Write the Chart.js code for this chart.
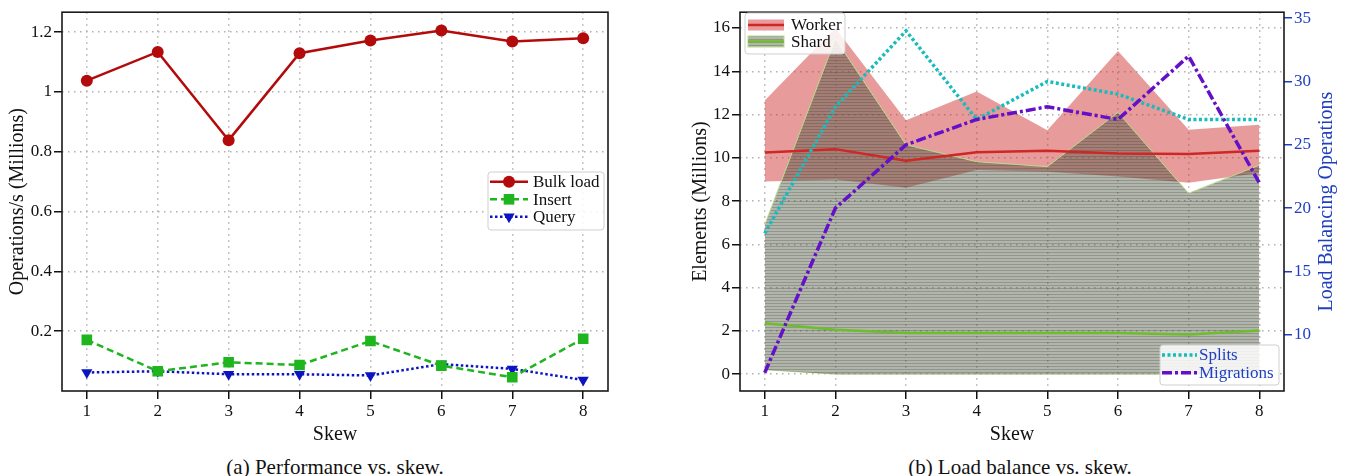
<!DOCTYPE html>
<html>
<head>
<meta charset="utf-8">
<script src="https://cdn.jsdelivr.net/npm/chart.js@4.4.1/dist/chart.umd.min.js"></script>
<style>
  html, body { margin: 0; padding: 0; background: #fff; width: 1347px; height: 476px; overflow: hidden; }
  canvas { position: absolute; top: 0; }
  #perf { left: 0; }
  #bal { left: 660px; }
  .cap { position: absolute; top: 455px; font-family: 'Liberation Serif', 'Times New Roman', Times, serif;
         font-size: 21px; line-height: 24px; white-space: nowrap; transform: translateX(-50%); color: #111; }
</style>
</head>
<body>
<canvas id="perf" width="640" height="447"></canvas>
<canvas id="bal" width="687" height="447"></canvas>
<div class="cap" style="left:335px">(a) Performance vs. skew.</div>
<div class="cap" style="left:1020px">(b) Load balance vs. skew.</div>
<script>
// ---- data ----
const skew = [1, 2, 3, 4, 5, 6, 7, 8];

// (a) throughput, millions of operations per second
const bulkLoad = [1.038, 1.134, 0.839, 1.130, 1.172, 1.206, 1.169, 1.180];
const insert   = [0.171, 0.066, 0.096, 0.087, 0.167, 0.085, 0.046, 0.175];
const query    = [0.062, 0.066, 0.056, 0.056, 0.052, 0.090, 0.074, 0.037];
const perfTicks = [0.2, 0.4, 0.6, 0.8, 1.0, 1.2];

// (b) elements per worker / shard, millions (mean with min-max band)
const workerMean = [10.24, 10.40, 9.86, 10.26, 10.33, 10.20, 10.18, 10.32];
const workerMax  = [12.65, 16.0, 11.73, 13.06, 11.27, 14.94, 11.30, 11.53];
const workerMin  = [8.90, 9.00, 8.62, 9.43, 9.36, 9.13, 8.85, 9.30];
const shardMean  = [2.35, 2.05, 1.90, 1.90, 1.90, 1.90, 1.83, 2.02];
const shardMax   = [6.9, 15.5, 10.6, 9.82, 9.59, 12.1, 8.36, 9.66];
const shardMin   = [0.2, 0, 0, 0, 0, 0, 0, 0];
// (b) load balancing operations
const splits     = [18, 28, 34, 27, 30, 29, 27, 27];
const migrations = [7, 20, 25, 27, 28, 27, 32, 22];
const elementTicks = [0, 2, 4, 6, 8, 10, 12, 14, 16];
const opsTicks     = [10, 15, 20, 25, 30, 35];

// ---- styling helpers ----
const serif = "'Liberation Serif', 'Times New Roman', Times, serif";
const opsBlue = '#1f3fbf';
const pts = arr => skew.map((s, i) => ({ x: s, y: arr[i] }));
const fixTicks = list => scale => { scale.ticks = list.map(v => ({ value: v })); };

function gridOpts(extra) {
  return Object.assign({
    color: '#b0b0b0', lineWidth: 1.5,
    tickColor: '#111', tickWidth: 1.5, tickLength: 8, tickBorderDash: []
  }, extra || {});
}
const dotted = { display: false, dash: [1.5, 4.5] };
const tickFont = { family: serif, size: 17 };
const titleFont = { family: serif, size: 20 };

function roundRect(ctx, x, y, w, h, r) {
  ctx.beginPath();
  ctx.moveTo(x + r, y);
  ctx.lineTo(x + w - r, y); ctx.quadraticCurveTo(x + w, y, x + w, y + r);
  ctx.lineTo(x + w, y + h - r); ctx.quadraticCurveTo(x + w, y + h, x + w - r, y + h);
  ctx.lineTo(x + r, y + h); ctx.quadraticCurveTo(x, y + h, x, y + h - r);
  ctx.lineTo(x, y + r); ctx.quadraticCurveTo(x, y, x + r, y);
  ctx.closePath();
}

function drawMarker(ctx, style, r, x, y, color) {
  ctx.save();
  ctx.fillStyle = color;
  ctx.beginPath();
  if (style === 'circle') {
    ctx.arc(x, y, r, 0, Math.PI * 2);
  } else if (style === 'rect') {
    const s = r * Math.SQRT1_2;
    ctx.rect(x - s, y - s, 2 * s, 2 * s);
  } else if (style === 'triangle') {
    // pointing down
    ctx.moveTo(x, y + r);
    ctx.lineTo(x + r * Math.sin(Math.PI * 2 / 3), y - r * 0.5);
    ctx.lineTo(x - r * Math.sin(Math.PI * 2 / 3), y - r * 0.5);
    ctx.closePath();
  }
  ctx.fill();
  ctx.restore();
}

// frame around the plot, legend boxes and an upward-reading right-axis title
const decorPlugin = {
  id: 'decor',
  afterDraw(chart, args, opts) {
    const ctx = chart.ctx;
    const a = chart.chartArea;
    ctx.save();
    ctx.lineWidth = 1.6;
    ctx.strokeStyle = '#1a1a1a';
    ctx.strokeRect(a.left, a.top, a.right - a.left, a.bottom - a.top);
    ctx.restore();

    (opts.legends || []).forEach(lg => {
      ctx.save();
      roundRect(ctx, lg.x, lg.y, lg.w, lg.h, 3);
      ctx.fillStyle = 'rgba(255,255,255,0.85)';
      ctx.fill();
      ctx.lineWidth = 1;
      ctx.strokeStyle = '#cfcfcf';
      ctx.stroke();
      ctx.font = '17px ' + serif;
      ctx.textBaseline = 'middle';
      ctx.textAlign = 'left';
      lg.rows.forEach(row => {
        const ds = chart.data.datasets[row.ds];
        const mid = (lg.x0 + lg.x1) / 2;
        if (row.band !== undefined) {
          const band = chart.data.datasets[row.band];
          ctx.fillStyle = '#fff';
          ctx.fillRect(lg.x0, row.y - 5.5, lg.x1 - lg.x0, 11);
          ctx.fillStyle = band.backgroundColor;
          ctx.fillRect(lg.x0, row.y - 5.5, lg.x1 - lg.x0, 11);
          if (band.borderWidth) {
            ctx.lineWidth = 1;
            ctx.strokeStyle = band.borderColor;
            ctx.strokeRect(lg.x0, row.y - 5.5, lg.x1 - lg.x0, 11);
          }
        }
        ctx.lineWidth = ds.borderWidth;
        ctx.strokeStyle = ds.borderColor;
        ctx.setLineDash(ds.borderDash || []);
        ctx.beginPath();
        ctx.moveTo(lg.x0, row.y);
        ctx.lineTo(lg.x1, row.y);
        ctx.stroke();
        ctx.setLineDash([]);
        if (ds.pointRadius) drawMarker(ctx, ds.pointStyle, ds.pointRadius, mid, row.y, ds.pointBackgroundColor);
        ctx.fillStyle = lg.textColor;
        ctx.fillText(ds.label, lg.tx, row.y + 1);
      });
      ctx.restore();
    });

    if (opts.sideTitle) {
      const t = opts.sideTitle;
      const sc = chart.scales[t.scale];
      ctx.save();
      ctx.translate(sc.right - t.inset, (a.top + a.bottom) / 2);
      ctx.rotate(-Math.PI / 2);
      ctx.font = '20px ' + serif;
      ctx.fillStyle = t.color;
      ctx.textAlign = 'center';
      ctx.textBaseline = 'middle';
      ctx.fillText(t.text, 0, 0);
      ctx.restore();
    }
  }
};

// ---- (a) performance vs. skew ----
new Chart(document.getElementById('perf'), {
  type: 'line',
  data: {
    datasets: [
      { label: 'Bulk load', data: pts(bulkLoad), borderColor: '#b30b0b', borderWidth: 2.5,
        pointStyle: 'circle', pointRadius: 6, pointBackgroundColor: '#b30b0b', pointBorderWidth: 0 },
      { label: 'Insert', data: pts(insert), borderColor: '#1fb51f', borderWidth: 2.5, borderDash: [7, 4],
        pointStyle: 'rect', pointRadius: 7.5, pointBackgroundColor: '#1fb51f', pointBorderWidth: 0 },
      { label: 'Query', data: pts(query), borderColor: '#0b14c0', borderWidth: 2.5, borderDash: [2.5, 2.5],
        pointStyle: 'triangle', pointRotation: 180, pointRadius: 6.5, pointBackgroundColor: '#0b14c0', pointBorderWidth: 0 }
    ]
  },
  options: {
    responsive: false, animation: false, events: [],
    layout: { padding: { top: 9, right: 32, left: 0, bottom: 0 } },
    plugins: {
      legend: { display: false }, tooltip: { enabled: false },
      decor: {
        legends: [{ x: 488, y: 172, w: 116, h: 58, x0: 490, x1: 528, tx: 533, textColor: '#111',
                    rows: [{ ds: 0, y: 181.7 }, { ds: 1, y: 199.3 }, { ds: 2, y: 216.7 }] }]
      }
    },
    scales: {
      x: {
        type: 'linear', min: 0.65, max: 8.35,
        afterBuildTicks: fixTicks(skew),
        afterFit: s => { s.height = 56; },
        ticks: { font: tickFont, color: '#111', padding: 2, autoSkip: false, maxRotation: 0 },
        grid: gridOpts(), border: dotted,
        title: { display: true, text: 'Skew', font: titleFont, color: '#111', padding: { top: 0, bottom: 0 } }
      },
      y: {
        type: 'linear', min: 0, max: 1.267,
        afterBuildTicks: fixTicks(perfTicks),
        afterFit: s => { s.width = 62; },
        ticks: { font: tickFont, color: '#111', padding: 2, autoSkip: false,
                 callback: v => String(+v.toFixed(1)) },
        grid: gridOpts(), border: dotted,
        title: { display: true, text: 'Operations/s (Millions)', font: titleFont, color: '#111', padding: { top: 6, bottom: 0 } }
      }
    }
  },
  plugins: [decorPlugin]
});

// ---- (b) load balance vs. skew ----
const balCanvas = document.getElementById('bal');
const shardTexture = (() => {
  const c = document.createElement('canvas');
  c.width = 4; c.height = 3;
  const g = c.getContext('2d');
  g.fillStyle = 'rgba(84,92,72,0.45)';
  g.fillRect(0, 1, 4, 2);
  g.fillStyle = 'rgba(72,78,64,0.6)';
  g.fillRect(0, 0, 4, 1);
  return balCanvas.getContext('2d').createPattern(c, 'repeat');
})();

new Chart(balCanvas, {
  type: 'line',
  data: {
    datasets: [
      { label: 'Migrations', data: pts(migrations), yAxisID: 'y2', borderColor: '#6410c8', borderWidth: 3.5,
        borderDash: [10, 3, 3, 3], pointRadius: 0, fill: false, order: 1 },
      { label: 'Splits', data: pts(splits), yAxisID: 'y2', borderColor: '#19bcbc', borderWidth: 3.5,
        borderDash: [3, 2.5], pointRadius: 0, fill: false, order: 2 },
      { label: 'Shard', data: pts(shardMean), borderColor: '#6cbf2a', borderWidth: 2.5, pointRadius: 0, fill: false, order: 3 },
      { label: 'Worker', data: pts(workerMean), borderColor: '#cf2626', borderWidth: 2.5, pointRadius: 0, fill: false, order: 4 },
      { label: 'Shard range', data: pts(shardMax), borderColor: '#b9dc8a', borderWidth: 1, pointRadius: 0,
        fill: '+1', backgroundColor: shardTexture, order: 5 },
      { label: 'Shard low', data: pts(shardMin), borderColor: '#b9dc8a', borderWidth: 1, pointRadius: 0, fill: false, order: 6 },
      { label: 'Worker range', data: pts(workerMax), borderColor: 'rgba(0,0,0,0)', borderWidth: 0, pointRadius: 0,
        fill: '+1', backgroundColor: 'rgba(205,45,45,0.48)', order: 7 },
      { label: 'Worker low', data: pts(workerMin), borderColor: 'rgba(0,0,0,0)', borderWidth: 0, pointRadius: 0, fill: false, order: 8 }
    ]
  },
  options: {
    responsive: false, animation: false, events: [],
    layout: { padding: { top: 9, right: 0, left: 0, bottom: 0 } },
    plugins: {
      legend: { display: false }, tooltip: { enabled: false },
      decor: {
        legends: [
          { x: 85, y: 13, w: 100, h: 41, x0: 88, x1: 124, tx: 131, textColor: '#111',
            rows: [{ ds: 3, band: 6, y: 25 }, { ds: 2, band: 4, y: 41.5 }] },
          { x: 500, y: 345, w: 119, h: 40, x0: 502, x1: 537, tx: 539, textColor: opsBlue,
            rows: [{ ds: 1, y: 355 }, { ds: 0, y: 372.7 }] }
        ],
        sideTitle: { scale: 'y2', text: 'Load Balancing Operations', color: opsBlue, inset: 20 }
      }
    },
    scales: {
      x: {
        type: 'linear', min: 0.65, max: 8.35,
        afterBuildTicks: fixTicks(skew),
        afterFit: s => { s.height = 56; },
        ticks: { font: tickFont, color: '#111', padding: 2, autoSkip: false, maxRotation: 0 },
        grid: gridOpts(), border: dotted,
        title: { display: true, text: 'Skew', font: titleFont, color: '#111', padding: { top: 0, bottom: 0 } }
      },
      y: {
        type: 'linear', position: 'left', min: -0.78, max: 16.73,
        afterBuildTicks: fixTicks(elementTicks),
        afterFit: s => { s.width = 80; },
        ticks: { font: tickFont, color: '#111', padding: 2, autoSkip: false },
        grid: gridOpts(), border: dotted,
        title: { display: true, text: 'Elements (Millions)', font: titleFont, color: '#111', padding: { top: 29, bottom: 0 } }
      },
      y2: {
        type: 'linear', position: 'right', min: 5.56, max: 35.47,
        afterBuildTicks: fixTicks(opsTicks),
        afterFit: s => { s.width = 63; },
        ticks: { font: tickFont, color: opsBlue, padding: 2, autoSkip: false },
        grid: gridOpts({ drawOnChartArea: false, tickColor: opsBlue }), border: { display: false }
      }
    }
  },
  plugins: [decorPlugin]
});
</script>
</body>
</html>
